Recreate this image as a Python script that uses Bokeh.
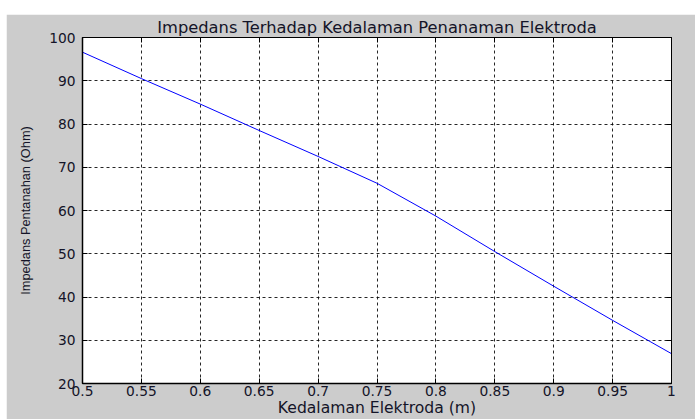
from bokeh.plotting import figure
from bokeh.models import LinearAxis, Range1d, FixedTicker
from bokeh.embed import file_html
from bokeh.resources import INLINE

depth_m = [0.5, 0.55, 0.6, 0.65, 0.7, 0.75, 0.8, 0.85, 0.9, 0.95, 1.0]
impedance_ohm = [96.6, 90.5, 84.6, 78.5, 72.5, 66.3, 58.7, 50.5, 42.5, 34.6, 26.9]
x_ticks = [0.5, 0.55, 0.6, 0.65, 0.7, 0.75, 0.8, 0.85, 0.9, 0.95, 1.0]
y_ticks = [20, 30, 40, 50, 60, 70, 80, 90, 100]
x_tick_labels = {0.5: "0.5", 0.55: "0.55", 0.6: "0.6", 0.65: "0.65", 0.7: "0.7",
                 0.75: "0.75", 0.8: "0.8", 0.85: "0.85", 0.9: "0.9", 0.95: "0.95", 1.0: "1"}

title_text = "Impedans Terhadap Kedalaman Penanaman Elektroda"
x_label = "Kedalaman Elektroda (m)"
y_label = "Impedans Pentanahan (Ohm)"

FONT = "DejaVu Sans"
GRAY = "#cccccc"
TXT = "#141428"

p = figure(width=689, height=405, output_backend="svg", toolbar_location=None,
           x_range=Range1d(0.5, 1.0), y_range=Range1d(20, 100),
           x_axis_label=x_label, y_axis_label=y_label,
           min_border_left=76, min_border_right=24, min_border_top=22, min_border_bottom=36)
p.styles = {"margin-left": "6px", "margin-top": "14px", "margin-right": "-8px", "margin-bottom": "-8px"}

p.title.text = title_text
p.title.align = "center"
p.title.text_font = FONT
p.title.text_font_size = "16.3px"
p.title.text_font_style = "normal"
p.title.text_color = TXT
p.title.standoff = 2
p.title.offset = 0

p.background_fill_color = "white"
p.border_fill_color = GRAY
p.outline_line_color = "black"
p.outline_line_width = 1

for ax in (p.xaxis[0], p.yaxis[0]):
    ax.axis_line_color = "black"
    ax.axis_line_width = 1.5
    ax.major_tick_in = 5
    ax.major_tick_out = 0
    ax.minor_tick_line_color = None
    ax.major_tick_line_color = "black"
    ax.major_label_text_font = FONT
    ax.major_label_text_font_size = "13.8px"
    ax.major_label_text_color = TXT
    ax.axis_label_text_font = FONT
    ax.axis_label_text_font_size = "15.6px"
    ax.axis_label_text_font_style = "normal"
    ax.axis_label_text_color = TXT

p.xaxis[0].ticker = FixedTicker(ticks=x_ticks)
p.xaxis[0].major_label_overrides = x_tick_labels
p.xaxis[0].major_label_standoff = 2
p.xaxis[0].axis_label_standoff = 0
p.yaxis[0].ticker = FixedTicker(ticks=y_ticks)
p.yaxis[0].major_label_standoff = 7
p.yaxis[0].axis_label_standoff = 13
p.yaxis[0].axis_label_text_font = "Liberation Sans"
p.yaxis[0].axis_label_text_font_size = "12.8px"

blank_y = {t: "" for t in y_ticks}
blank_x = {t: "" for t in x_ticks}
right_ax = LinearAxis(ticker=FixedTicker(ticks=y_ticks), major_label_overrides=blank_y,
                      major_tick_in=5, major_tick_out=0, minor_tick_line_color=None,
                      axis_line_color="black", major_label_standoff=0)
p.add_layout(right_ax, "right")
top_ax = LinearAxis(ticker=FixedTicker(ticks=x_ticks), major_label_overrides=blank_x,
                    major_tick_in=5, major_tick_out=0, minor_tick_line_color=None,
                    axis_line_color="black", major_label_standoff=0)
p.add_layout(top_ax, "above")

p.xgrid.ticker = FixedTicker(ticks=x_ticks)
p.ygrid.ticker = FixedTicker(ticks=y_ticks)
for g in (p.xgrid[0], p.ygrid[0]):
    g.grid_line_color = "black"
    g.grid_line_dash = "3 3"
    g.grid_line_width = 1
    g.grid_line_alpha = 0.85

p.line(depth_m, impedance_ohm, line_color="#0000ff", line_width=1)

open("out.html", "w").write(file_html(p, INLINE))
